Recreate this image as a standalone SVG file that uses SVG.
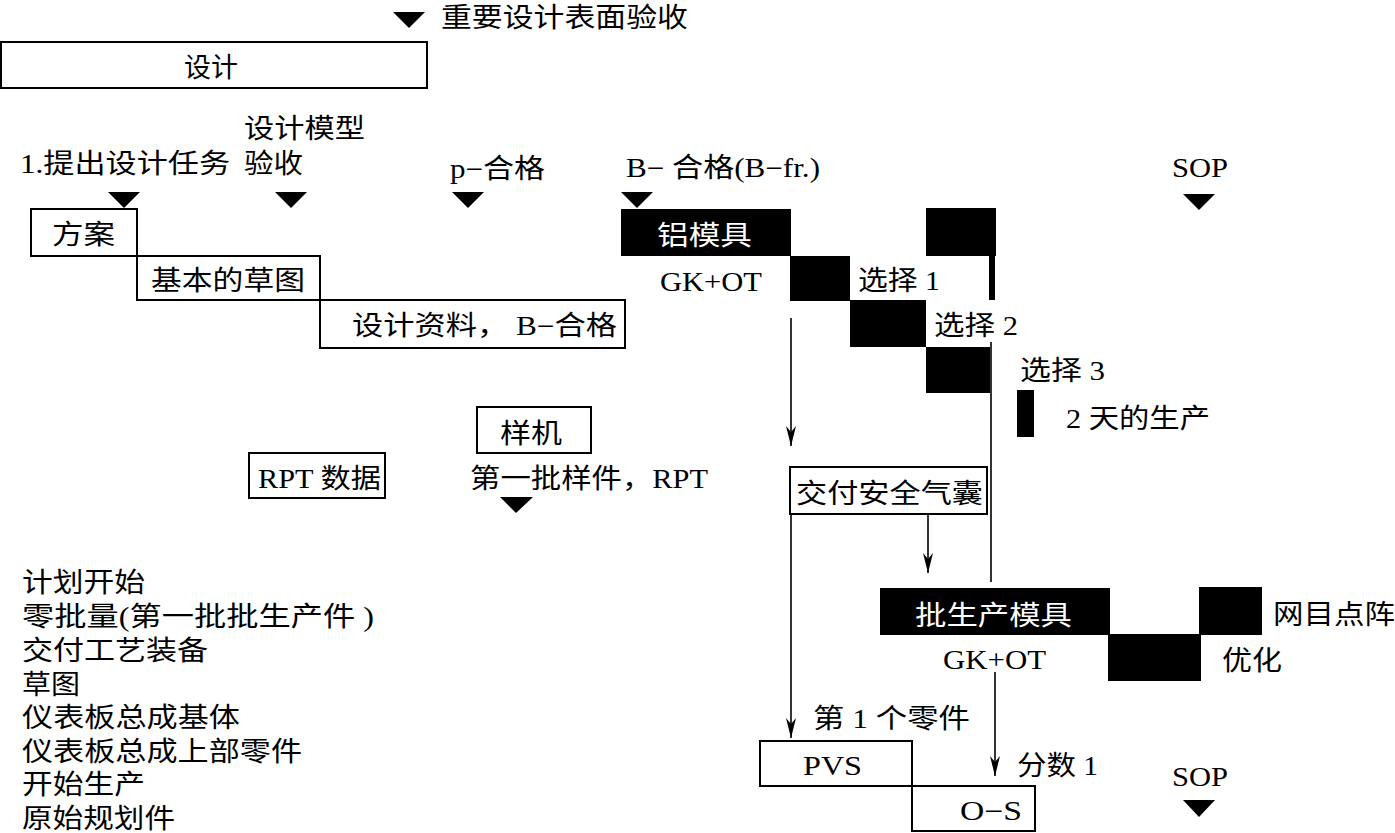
<svg xmlns="http://www.w3.org/2000/svg" width="1395" height="833" viewBox="0 0 1395 833">
<style>
text{font-family:"Liberation Serif","Noto Sans CJK SC",serif;font-size:27px;fill:#000}
.w{fill:#fff}
.box{fill:#fff;stroke:#000;stroke-width:2}
.blk{fill:#000}
.tri{fill:#000}
.ln{stroke:#000;stroke-width:1.6;fill:none}
</style>
<defs>
<marker id="ah" viewBox="0 0 20 10" refX="20" refY="5" markerWidth="20" markerHeight="10" markerUnits="userSpaceOnUse" orient="auto">
<path d="M0,0 L20,5 L0,10 L6,5 Z" fill="#000"/>
</marker>
</defs>
<rect width="1395" height="833" fill="#fff"/>

<g id="milestones">
<polygon class="tri" points="393,12 425,12 409,28"/>
<text x="441" y="27" textLength="247" lengthAdjust="spacingAndGlyphs">重要设计表面验收</text>
<text x="244" y="138" textLength="121" lengthAdjust="spacingAndGlyphs">设计模型</text>
<text x="20" y="173" textLength="210" lengthAdjust="spacingAndGlyphs">1.提出设计任务</text>
<text x="244" y="173" textLength="59" lengthAdjust="spacingAndGlyphs">验收</text>
<text x="450" y="178" textLength="95" lengthAdjust="spacingAndGlyphs">p−合格</text>
<text x="626" y="177" textLength="194" lengthAdjust="spacingAndGlyphs">B− 合格(B−fr.)</text>
<text x="1172" y="177" textLength="56" lengthAdjust="spacingAndGlyphs">SOP</text>
<polygon class="tri" points="108,192 140,192 124,208"/>
<polygon class="tri" points="275,192 307,192 291,208"/>
<polygon class="tri" points="452,192 484,192 468,208"/>
<polygon class="tri" points="621,192 653,192 637,208"/>
<polygon class="tri" points="1183,194 1215,194 1199,210"/>
<polygon class="tri" points="500,497 533,497 516,513"/>
<polygon class="tri" points="1183,800 1215,800 1199,817"/>
<text x="1172" y="786" textLength="56" lengthAdjust="spacingAndGlyphs">SOP</text>
</g>

<g id="design">
<rect class="box" x="1" y="42" width="426" height="46"/>
<text x="211" y="77" text-anchor="middle">设计</text>
</g>

<g id="concept">
<rect class="box" x="31" y="209" width="106" height="47"/>
<text x="52" y="244" textLength="63" lengthAdjust="spacingAndGlyphs">方案</text>
</g>
<g id="sketch">
<rect class="box" x="137" y="256" width="183" height="44"/>
<text x="151" y="290" textLength="154" lengthAdjust="spacingAndGlyphs">基本的草图</text>
</g>
<g id="designdata">
<rect class="box" x="320" y="300" width="305" height="48"/>
<text x="352" y="335" textLength="265" lengthAdjust="spacingAndGlyphs">设计资料， B−合格</text>
</g>

<g id="alumold">
<rect class="blk" x="621" y="209" width="170" height="47"/>
<text class="w" x="657" y="245" textLength="95" lengthAdjust="spacingAndGlyphs">铝模具</text>
<text x="660" y="291" textLength="102" lengthAdjust="spacingAndGlyphs">GK+OT</text>
</g>
<g id="opt1">
<rect class="blk" x="790" y="256" width="60" height="45"/>
<text x="858" y="290" textLength="82" lengthAdjust="spacingAndGlyphs">选择 1</text>
</g>
<g id="opt2">
<rect class="blk" x="850" y="300" width="76" height="47"/>
<text x="934" y="335" textLength="84" lengthAdjust="spacingAndGlyphs">选择 2</text>
</g>
<g id="opt3">
<rect class="blk" x="926" y="347" width="64" height="46"/>
<text x="1020" y="380" textLength="85" lengthAdjust="spacingAndGlyphs">选择 3</text>
</g>
<g id="topblock">
<rect class="blk" x="926" y="208" width="70" height="48"/>
<rect class="blk" x="989" y="255" width="6" height="45"/>
</g>
<g id="twoday">
<rect class="blk" x="1017" y="390" width="17" height="47"/>
<text x="1066" y="428" textLength="144" lengthAdjust="spacingAndGlyphs">2 天的生产</text>
</g>

<g id="prototype">
<rect class="box" x="477" y="407" width="114" height="46"/>
<text x="500" y="443" textLength="62" lengthAdjust="spacingAndGlyphs">样机</text>
</g>
<g id="rptdata">
<rect class="box" x="249" y="453" width="136" height="45"/>
<text x="258" y="488" textLength="123" lengthAdjust="spacingAndGlyphs">RPT 数据</text>
</g>
<g id="firstsample">
<text x="470" y="488" textLength="238" lengthAdjust="spacingAndGlyphs">第一批样件，RPT</text>
</g>

<g id="airbag">
<rect class="box" x="790" y="467" width="197" height="47"/>
<text x="796" y="503" textLength="187" lengthAdjust="spacingAndGlyphs">交付安全气囊</text>
</g>

<g id="seriesmold">
<rect class="blk" x="880" y="588" width="230" height="47"/>
<text class="w" x="915" y="625" textLength="157" lengthAdjust="spacingAndGlyphs">批生产模具</text>
<text x="943" y="669" textLength="103" lengthAdjust="spacingAndGlyphs">GK+OT</text>
</g>
<g id="optimize">
<rect class="blk" x="1108" y="634" width="93" height="47"/>
<text x="1222" y="670" textLength="60" lengthAdjust="spacingAndGlyphs">优化</text>
</g>
<g id="grid">
<rect class="blk" x="1199" y="587" width="63" height="48"/>
<text x="1273" y="624" textLength="122" lengthAdjust="spacingAndGlyphs">网目点阵</text>
</g>

<g id="pvs">
<text x="813" y="728" textLength="157" lengthAdjust="spacingAndGlyphs">第 1 个零件</text>
<rect class="box" x="760" y="741" width="152" height="45"/>
<text x="803" y="775" textLength="59" lengthAdjust="spacingAndGlyphs">PVS</text>
</g>
<g id="os">
<rect class="box" x="912" y="786" width="123" height="45"/>
<text x="960" y="820" textLength="62" lengthAdjust="spacingAndGlyphs">O−S</text>
<text x="1017" y="775" textLength="81" lengthAdjust="spacingAndGlyphs">分数 1</text>
</g>

<g id="legend">
<text x="22" y="592" textLength="123" lengthAdjust="spacingAndGlyphs">计划开始</text>
<text x="22" y="626" textLength="352" lengthAdjust="spacingAndGlyphs">零批量(第一批批生产件 )</text>
<text x="22" y="660" textLength="186" lengthAdjust="spacingAndGlyphs">交付工艺装备</text>
<text x="22" y="694" textLength="58" lengthAdjust="spacingAndGlyphs">草图</text>
<text x="22" y="727" textLength="218" lengthAdjust="spacingAndGlyphs">仪表板总成基体</text>
<text x="22" y="761" textLength="280" lengthAdjust="spacingAndGlyphs">仪表板总成上部零件</text>
<text x="22" y="794" textLength="123" lengthAdjust="spacingAndGlyphs">开始生产</text>
<text x="22" y="828" textLength="153" lengthAdjust="spacingAndGlyphs">原始规划件</text>
</g>

<g id="connectors">
<line class="ln" x1="791" y1="318" x2="791" y2="446" marker-end="url(#ah)"/>
<line class="ln" x1="991" y1="342" x2="991" y2="582"/>
<line class="ln" x1="791" y1="514" x2="791" y2="738" marker-end="url(#ah)"/>
<line class="ln" x1="928" y1="514" x2="928" y2="573" marker-end="url(#ah)"/>
<line class="ln" x1="995" y1="672" x2="995" y2="776" marker-end="url(#ah)"/>
</g>
</svg>
